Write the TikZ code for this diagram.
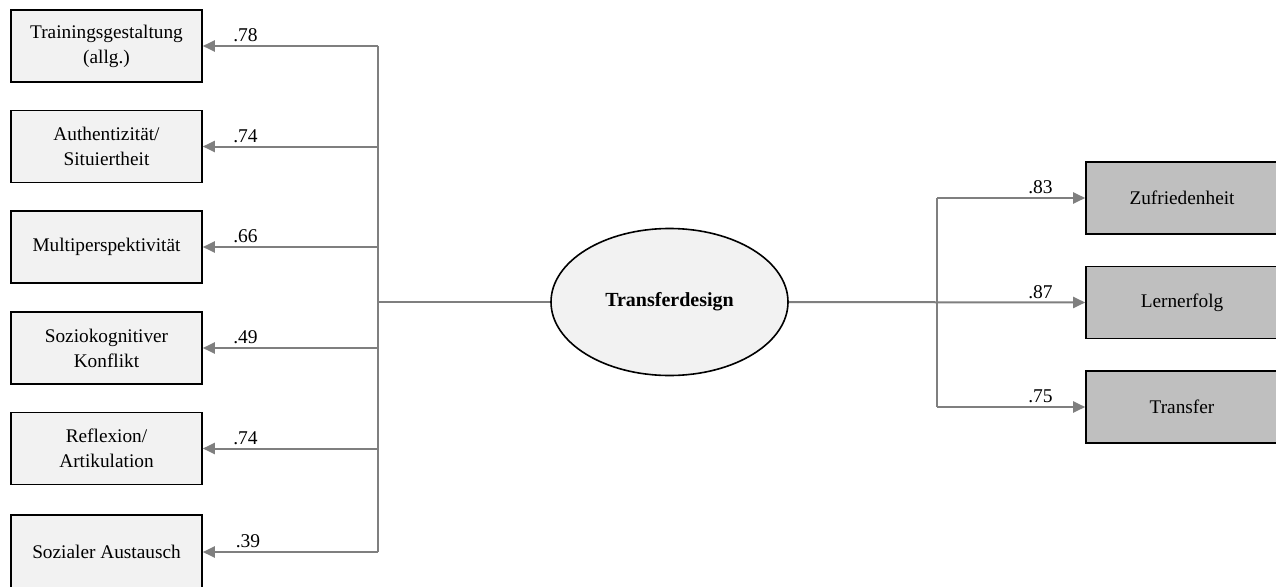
\documentclass[tikz,border=0pt]{standalone}
\usepackage{fontspec}
\setmainfont{Liberation Serif}
\usetikzlibrary{arrows.meta,shapes.geometric}
\definecolor{lightfill}{HTML}{F2F2F2}
\definecolor{darkfill}{HTML}{BFBFBF}
\definecolor{linegray}{HTML}{7F7F7F}
\begin{document}
\begin{tikzpicture}[x=1pt,y=-1pt,
  every node/.style={font=\fontsize{19.3}{25}\selectfont},
  indicator/.style={draw=black,line width=1.6pt,fill=lightfill,minimum width=191pt,
    minimum height=72pt,align=center,inner sep=0pt},
  outcome/.style={indicator,fill=darkfill,minimum width=192pt},
  latent/.style={ellipse,draw=black,line width=1.6pt,fill=lightfill,minimum width=237pt,
    minimum height=147pt,inner sep=0pt,font=\fontsize{20}{25}\selectfont\bfseries},
  link/.style={draw=linegray,line width=2pt},
  loading/.style={link,-{Triangle[length=12pt,width=11pt]}},
  coef/.style={anchor=south,inner sep=0pt,yshift=4pt,font=\fontsize{19.5}{25}\selectfont}]
\clip (0,0) rectangle (1276,586);
\fill[white] (0,0) rectangle (1276,586);

% indicators of the latent factor
\node[indicator] (b1) at (106.5,46)    {Trainingsgestaltung\\(allg.)};
\node[indicator] (b2) at (106.5,146.5) {Authentizität/\\Situiertheit};
\node[indicator] (b3) at (106.5,247)   {Multiperspektivität};
\node[indicator] (b4) at (106.5,348)   {Soziokognitiver\\Konflikt};
\node[indicator] (b5) at (106.5,448.5) {Reflexion/\\Artikulation};
\node[indicator,minimum height=74pt] (b6) at (106.5,552) {Sozialer Austausch};

% latent factor
\node[latent] (te) at (669.5,302) {Transferdesign};

% outcomes
\node[outcome] (r1) at (1182,198) {Zufriedenheit};
\node[outcome] (r2) at (1182,302.5) {Lernerfolg};
\node[outcome] (r3) at (1182,407) {Transfer};

% junctions
\coordinate (jl) at (378,302);
\coordinate (jr) at (937,302);

% left branch
\draw[link] (te.west) -- (jl);
\draw[link] (jl |- b1.east) -- (jl |- b6.east);
\foreach \b in {b1,b2,b3,b4,b5,b6}
  \draw[loading] (jl |- \b.east) -- (\b.east);

% right branch
\draw[loading] (te.east) -- (r2.west);
\draw[link] (jr |- r1.west) -- (jr |- r3.west);
\draw[loading] (jr |- r1.west) -- (r1.west);
\draw[loading] (jr |- r3.west) -- (r3.west);

% loadings
\node[coef] (c1) at (245.5,46)    {.78};
\node[coef] (c2) at (245.5,146.5) {.74};
\node[coef] (c3) at (245.5,247)   {.66};
\node[coef] (c4) at (245.5,348)   {.49};
\node[coef] (c5) at (245.5,448.5) {.74};
\node[coef] (c6) at (248,552)     {.39};
\node[coef] (c7) at (1040.5,198)  {.83};
\node[coef] (c8) at (1040.5,302.5){.87};
\node[coef] (c9) at (1040.5,407)  {.75};
\end{tikzpicture}
\end{document}
